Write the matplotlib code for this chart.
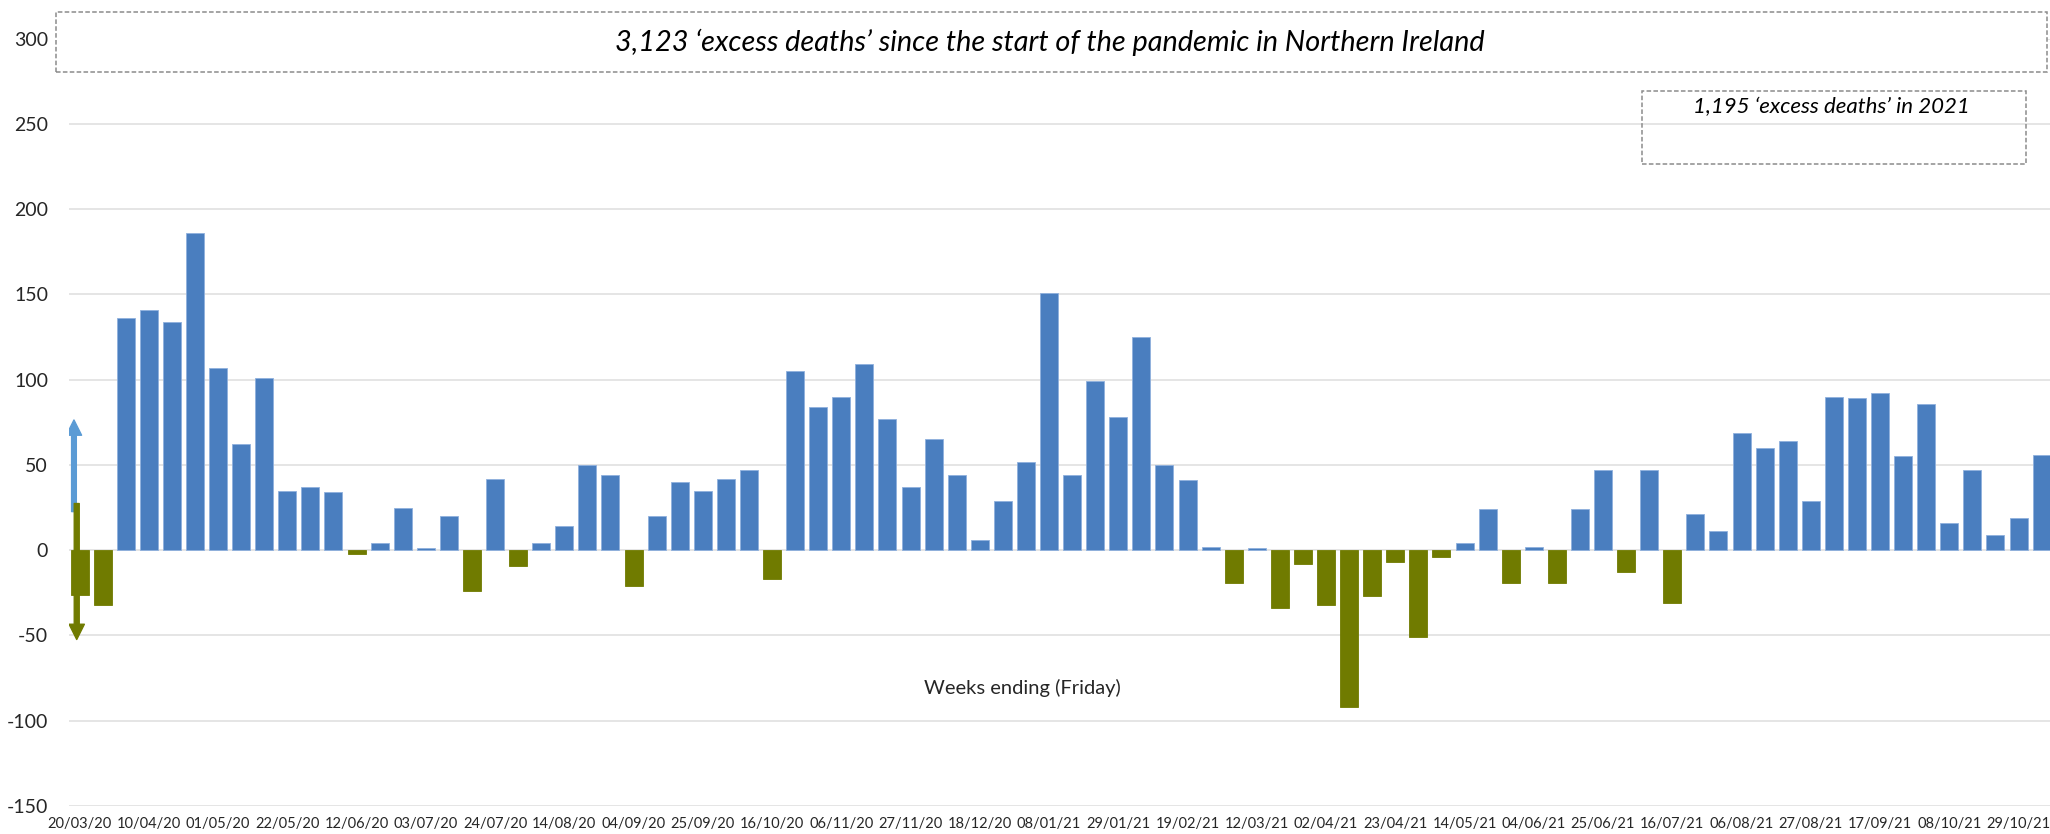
import matplotlib
matplotlib.use("Agg")
import matplotlib.pyplot as plt
from matplotlib.patches import Rectangle, FancyArrowPatch

plt.rcParams['font.family'] = ['Lato', 'DejaVu Sans']

# ---- data ----
excess_deaths = [
    -26, -32, 136, 141, 134, 186, 107, 62, 101, 35,
    37, 34, -2, 4, 25, 1, 20, -24, 42, -9,
    4, 14, 50, 44, -21, 20, 40, 35, 42, 47,
    -17, 105, 84, 90, 109, 77, 37, 65, 44, 6,
    29, 52, 151, 44, 99, 78, 125, 50, 41, 2,
    -19, 1, -34, -8, -32, -92, -27, -7, -51, -4,
    4, 24, -19, 2, -19, 24, 47, -13, 47, -31,
    21, 11, 69, 60, 64, 29, 90, 89, 92, 55,
    86, 16, 47, 9, 19, 56,
]
tick_labels = [
    "20/03/20", "10/04/20", "01/05/20", "22/05/20", "12/06/20", "03/07/20",
    "24/07/20", "14/08/20", "04/09/20", "25/09/20", "16/10/20", "06/11/20",
    "27/11/20", "18/12/20", "08/01/21", "29/01/21", "19/02/21", "12/03/21",
    "02/04/21", "23/04/21", "14/05/21", "04/06/21", "25/06/21", "16/07/21",
    "06/08/21", "27/08/21", "17/09/21", "08/10/21", "29/10/21",
]
y_ticks = [-150, -100, -50, 0, 50, 100, 150, 200, 250, 300]
title_text = "3,123 \u2018excess deaths\u2019 since the start of the pandemic in Northern Ireland"
sub_text = "1,195 \u2018excess deaths\u2019 in 2021"
xlabel_text = "Weeks ending (Friday)"

BLUE = "#4A7EBF"
OLIVE = "#707B00"
ARROW_BLUE = "#5B9BD5"
GRID = "#E3E3E3"
TXT = "#262626"

W, H = 2050, 834
fig = plt.figure(figsize=(W / 100, H / 100), dpi=100)
ax = fig.add_axes([69 / W, (H - 806) / H, (W - 69) / W, (806 - 38.6) / H])

x = list(range(len(excess_deaths)))
colors = [BLUE if v >= 0 else OLIVE for v in excess_deaths]
edges = ["#8FB0DD" if v >= 0 else OLIVE for v in excess_deaths]
ax.bar(x, excess_deaths, width=0.78, color=colors, edgecolor=edges,
       linewidth=0.6, zorder=3)

ax.set_xlim(-0.455, len(excess_deaths) - 1 + 0.364)
ax.set_ylim(-150, 300)
ax.set_yticks(y_ticks)
ax.set_yticklabels([str(t) for t in y_ticks], fontsize=14, color=TXT)
ax.set_xticks(list(range(0, len(excess_deaths), 3))[:len(tick_labels)])
ax.set_xticklabels(tick_labels, fontsize=10.5, color=TXT)
ax.tick_params(axis='both', length=0)
ax.tick_params(axis='x', pad=8)
ax.tick_params(axis='y', pad=15)
ax.grid(axis='y', color=GRID, linewidth=1.3, zorder=0)
ax.set_axisbelow(True)
for s in ax.spines.values():
    s.set_visible(False)

# arrows at left
a1 = FancyArrowPatch((-0.24, 21), (-0.24, 78),
                     arrowstyle="simple,head_width=11,head_length=11,tail_width=3.4",
                     color=ARROW_BLUE, zorder=4, mutation_scale=1)
ax.add_patch(a1)
a2 = FancyArrowPatch((-0.12, 29), (-0.12, -54),
                     arrowstyle="simple,head_width=11,head_length=11,tail_width=3.6",
                     color=OLIVE, zorder=5, mutation_scale=1)
ax.add_patch(a2)

ax.text(40.85, -81, xlabel_text, ha='center', va='center', fontsize=14.5,
        color=TXT, zorder=6)

# title box (figure pixel coords)
def fig_rect(x0, y0, x1, y1, fill):
    r = Rectangle((x0 / W, 1 - y1 / H), (x1 - x0) / W, (y1 - y0) / H,
                  transform=fig.transFigure, facecolor='white' if fill else 'none',
                  edgecolor='#8C8C8C', linestyle=(0, (3, 1.5)), linewidth=1.1,
                  zorder=10)
    fig.add_artist(r)

fig_rect(56, 12, 2047, 72, True)
fig.text(1050 / W, 1 - 42 / H, title_text, ha='center', va='center',
         fontsize=20.8, style='italic', color='black', zorder=11)
fig_rect(1642, 91, 2026, 164, False)
fig.text(1831 / W, 1 - 107 / H, sub_text, ha='center', va='center',
         fontsize=16, style='italic', color='black', zorder=11)

fig.savefig("out.png", dpi=100)
